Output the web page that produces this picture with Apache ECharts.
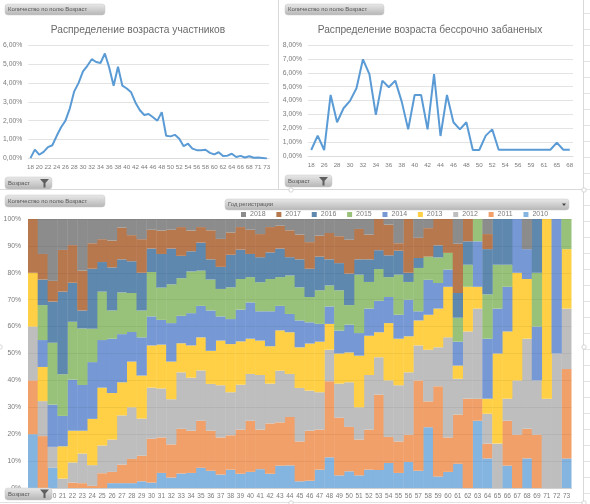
<!DOCTYPE html>
<html><head><meta charset="utf-8">
<style>html,body{margin:0;padding:0;background:#fff}#c{width:590px;height:504px}</style>
<script src="https://cdn.jsdelivr.net/npm/echarts@6/dist/echarts.min.js"></script>
</head><body><div id="c"></div>
<script>
const ageCats = ['18','19','20','21','22','23','24','25','26','27','28','29','30','31','32','33','34','35','36','37','38','39','40','41','42','43','44','45','46','47','48','49','50','51','52','53','54','55','56','57','58','59','60','61','62','63','64','65','66','67','68','69','71','72','73'];
const allShare = [0.02,0.47,0.2,0.35,0.6,0.7,1.2,1.65,2.0,2.65,3.55,4.0,4.6,4.9,5.25,5.1,5.05,5.55,4.8,3.85,4.85,3.85,3.7,3.5,2.95,2.55,2.3,2.35,2.18,2.0,2.45,1.2,1.17,1.25,1.05,0.65,0.78,0.52,0.44,0.44,0.46,0.3,0.22,0.33,0.13,0.15,0.25,0.08,0.14,0.05,0.12,0.04,0.05,0.03,0.0];
const banCats = ['18','25','26','27','28','29','30','31','32','33','34','35','36','37','38','39','40','41','42','43','44','45','46','47','48','49','50','51','52','53','54','55','56','58','59','60','61','63','65','67','68'];
const banShare = [0.43,1.47,0.43,4.4,2.43,3.44,3.97,4.88,6.97,5.9,2.96,5.43,4.95,5.43,3.92,1.92,4.4,4.4,1.92,5.9,1.44,4.4,2.43,1.92,2.43,0.43,0.43,1.47,1.92,0.45,0.45,0.45,0.45,0.45,0.45,0.45,0.45,0.45,0.96,0.45,0.45];
const regCats = ageCats;
// upper edge of each year's band in the 100% stack, per age
const top2010 = [20,0,7.5,0,0,0,0,0,1.8,1.8,1.8,2.5,2,5.6,3.9,5.4,5.6,7.5,6.4,5,6.8,5.3,6,7,5.3,8.3,8.4,2.5,2.7,6.8,11.4,4.7,6.2,4.7,6.8,6.7,9.3,5.6,9.7,6.4,22.6,4.3,6,9,0,25,11,0,8.3,0,11,0,0,0,11];
const top2011 = [40,19.3,7.5,0,2,1.8,0.8,5.5,6,8.7,10.8,12,18.3,18.8,16.2,22,21.3,25,21.3,18.8,19.6,21.7,25,21.7,24,24.4,26.4,17.3,21.3,21.7,39.7,26.1,22.7,18,21.7,34.7,19,17.3,19.8,40,32.2,37.8,18.8,27.3,33.2,33.2,16.5,0,25,19.8,22,19.8,0,0,44.2];
const top2012 = [60,32.3,15.3,3.5,9.5,12.8,8.5,15.8,18,27,30,25.8,37.3,37,33,43,41,43.7,38.7,38.2,35.6,38.4,42.4,42,38.8,43.6,42.4,37.2,36.2,35.6,51.4,38.8,39.3,30,42,48.6,40,38.2,43,53,51.4,52.3,56,40.6,58.2,66.7,27.6,16.5,33.2,40,55.5,40,33.2,50,66.7];
const top2013 = [80,45,15.3,15.5,21.3,21.3,25.7,37.3,35.3,39.3,47,41.8,53,53.3,47,53.8,53,56,51,54.8,53.5,54.5,55.5,54.8,52.7,58.6,57.9,52.3,53.7,54.4,61,50,50.4,49.2,56.6,57.9,61.3,55.5,56.4,62.3,64.4,66.7,74.8,45.5,74.8,74.8,33.2,50,58.2,80,77.7,40,100,50,88.8];
const top2014 = [80,55,31,26.8,40.3,38.3,46.8,55,55.5,57.2,58,56,63.8,62.5,61.3,64,65,67.7,66,63.8,62.8,66.3,69,65.7,65.7,67.7,64.7,62.3,61.6,61,67.5,58.5,60.7,57.6,66.7,69.6,71,64.4,70,65.7,77.4,76.2,81.2,54.4,74.8,91.7,55.5,66.7,74.8,100,88.8,60,100,100,88.8];
const top2015 = [80,68,54,42.3,61.8,59.3,59.2,73,66,72.7,72.5,66,80.3,74.5,75.7,78,80.5,80.8,77.5,74,74.6,77.7,78.4,76.5,77.7,78.4,79,74.6,71,73.5,75.3,73.5,68,79.3,76.6,81.4,78.4,79.3,76.6,81.8,86,85.7,87.4,63.3,83,100,72,83,83,100,88.8,80,100,100,100];
const top2016 = [80,77.5,69.3,73,76.3,66,81.5,84,82,85,84.3,80,89,87,89,86.3,88,91.2,85,82.2,86.7,88.6,87,85.8,87.6,89,85.8,85,81.5,86,85,83.6,79.7,85,85,88.4,86.5,88.2,80,85.5,86,90.2,87.4,72.5,91.7,100,88.8,100,100,100,88.8,100,100,100,100];
const top2017 = [100,87,77,88.5,90.3,80.8,91,92.5,92,96.8,94,92.5,96,95.7,96,97,95.7,97,95.8,92.6,95,97,96,94.4,97,97.5,95.8,94.2,91.4,93.8,94.8,93.6,92.3,96.3,94.2,100,97.9,91,100,93,96.6,100,100,90.8,100,100,94.4,100,100,100,88.8,100,100,100,100];
const top2018 = regCats.map(() => 100);
const yearTops = [['2010',top2010,'#84B4E0'],['2011',top2011,'#F1A069'],['2012',top2012,'#BEBEBE'],['2013',top2013,'#FFD045'],['2014',top2014,'#7698D5'],['2015',top2015,'#98C27A'],['2016',top2016,'#5E88AE'],['2017',top2017,'#B8784E'],['2018',top2018,'#8C8C8C']];
const legendOrder = ['2018','2017','2016','2015','2014','2013','2012','2011','2010'];

const FONT = '"Liberation Sans","Open Sans",sans-serif';
const GREY = '#7b7b7b';
const pct2 = v => v.toFixed(2).replace('.', ',') + '%';
const pctLab = { color: GREY, fontSize: 6.8, fontFamily: FONT, margin: 6 };
const lineSeries = (name, idx, data) => ({
  name, type: 'line', xAxisIndex: idx, yAxisIndex: idx, data, symbol: 'none', smooth: false,
  lineStyle: { color: '#5B9BD5', width: 2 }, itemStyle: { color: '#5B9BD5' }, silent: true
});
const pill = (x, y, w, h, text) => ([
  { type: 'rect', x, y, shape: { width: w, height: h, r: 3 }, z: 20,
    style: { fill: { type: 'linear', x: 0, y: 0, x2: 0, y2: 1, colorStops: [{ offset: 0, color: '#e9e9e9' }, { offset: 1, color: '#b5b5b5' }] }, stroke: '#c9c9c9', lineWidth: 0.5 } },
  { type: 'text', x: x + 3, y: y + h / 2, z: 21, style: { text, fill: '#555', font: '5.9px ' + FONT, textVerticalAlign: 'middle' } }
]);
const funnel = (x, y) => ({ type: 'polygon', z: 21, shape: { points: [[x, y], [x + 9, y], [x + 5.5, y + 4], [x + 5.5, y + 8.5], [x + 3.5, y + 8.5], [x + 3.5, y + 4]] }, style: { fill: '#5f5f5f' } });
const rule = (x1, y1, x2, y2, c) => ({ type: 'line', z: 1, shape: { x1, y1, x2, y2 }, style: { stroke: c || '#d9d9d9', lineWidth: 1 } });
const handle = (cx, cy) => ({ type: 'circle', z: 22, shape: { cx, cy, r: 2.2 }, style: { fill: '#fff', stroke: '#c4c4c4', lineWidth: 0.7 } });

const sheetRows = [];
for (const y of [13, 29, 45, 61, 77, 93, 109, 125, 141, 157, 173, 189, 205, 221, 237, 253, 269, 285, 301, 317, 333, 349, 365, 381, 397, 413, 429, 445, 461, 477, 493]) sheetRows.push(rule(584, y + 0.5, 590, y + 0.5, '#e4e4e4'));

const series = [lineSeries('Участники', 0, allShare), lineSeries('Забаненые', 1, banShare)];
yearTops.forEach(([name, tops, color], i) => {
  const below = i ? yearTops[i - 1][1] : null;
  series.push({
    name, type: 'bar', stack: 'reg', xAxisIndex: 2, yAxisIndex: 2, barWidth: 10.3,
    data: tops.map((t, k) => +(t - (below ? below[k] : 0)).toFixed(1)),
    itemStyle: { color }, silent: true
  });
});

const chart = echarts.init(document.getElementById('c'), null, { renderer: 'canvas' });
chart.setOption({
  animation: false, backgroundColor: '#fff',
  textStyle: { fontFamily: FONT },
  title: [
    { text: 'Распределение возраста участников', left: 133, top: 20, textAlign: 'center', textStyle: { fontSize: 10.2, fontWeight: 'normal', color: '#6a6a6a', fontFamily: FONT } },
    { text: 'Распределение возраста бессрочно забаненых', left: 425, top: 20, textAlign: 'center', textStyle: { fontSize: 10.2, fontWeight: 'normal', color: '#6a6a6a', fontFamily: FONT } }
  ],
  legend: { data: legendOrder, left: 241, top: 211, width: 340, itemWidth: 5, itemHeight: 5, itemGap: 10.8, icon: 'rect', selectedMode: false, padding: 0,
    textStyle: { color: GREY, fontSize: 7, fontFamily: FONT, padding: [0, 0, 0, -1] } },
  grid: [
    { left: 28, top: 45, width: 241, height: 113.5 },
    { left: 308, top: 45, width: 265, height: 111 },
    { left: 28, top: 219, width: 543.5, height: 269 }
  ],
  xAxis: [
    { type: 'category', gridIndex: 0, data: ageCats, axisTick: { show: false }, axisLine: { lineStyle: { color: '#dcdcdc' } }, axisLabel: { interval: 1, color: GREY, fontSize: 6.2, margin: 6, fontFamily: FONT } },
    { type: 'category', gridIndex: 1, data: banCats, axisTick: { show: false }, axisLine: { lineStyle: { color: '#dcdcdc' } }, axisLabel: { interval: 1, color: GREY, fontSize: 6.2, margin: 6, fontFamily: FONT } },
    { type: 'category', gridIndex: 2, data: regCats, axisTick: { show: false }, axisLine: { lineStyle: { color: '#dcdcdc' } }, axisLabel: { interval: 0, color: GREY, fontSize: 6.5, margin: 5, fontFamily: FONT } }
  ],
  yAxis: [
    { type: 'value', gridIndex: 0, min: 0, max: 6, interval: 1, axisLine: { show: false }, axisTick: { show: false }, splitLine: { lineStyle: { color: '#e3e3e3' } }, axisLabel: { ...pctLab, formatter: pct2 } },
    { type: 'value', gridIndex: 1, min: 0, max: 8, interval: 1, axisLine: { show: false }, axisTick: { show: false }, splitLine: { lineStyle: { color: '#e3e3e3' } }, axisLabel: { ...pctLab, formatter: pct2 } },
    { type: 'value', gridIndex: 2, min: 0, max: 100, interval: 10, z: 5, axisLine: { show: false }, axisTick: { show: false }, splitLine: { lineStyle: { color: 'rgba(0,0,0,0.05)' } }, axisLabel: { ...pctLab, margin: 7, formatter: '{value}%' } }
  ],
  series,
  graphic: { elements: [
    rule(278.5, 0, 278.5, 189), rule(0, 189.5, 584, 189.5), rule(583.5, 0, 583.5, 504), rule(0, 502.5, 584, 502.5, '#e2e2e2'), ...sheetRows,
    handle(584, 190), handle(291, 190), handle(584, 347), handle(0, 347), handle(291, 503), handle(584, 503),
    ...pill(5, 4, 100, 11, 'Количество по полю Возраст'),
    ...pill(285, 4, 99, 11, 'Количество по полю Возраст'),
    ...pill(5, 177, 47, 12, 'Возраст'), funnel(40, 179),
    ...pill(285, 175, 47, 12, 'Возраст'), funnel(319, 177),
    ...pill(5, 195, 100, 12, 'Количество по полю Возраст'),
    ...pill(225, 199, 344, 11, 'Год регистрации'),
    { type: 'polygon', z: 21, shape: { points: [[562, 203.5], [566, 203.5], [564, 206]] }, style: { fill: '#444' } },
    ...pill(5, 488, 47, 12, 'Возраст'), funnel(40, 489.5)
  ] }
});
</script></body></html>
